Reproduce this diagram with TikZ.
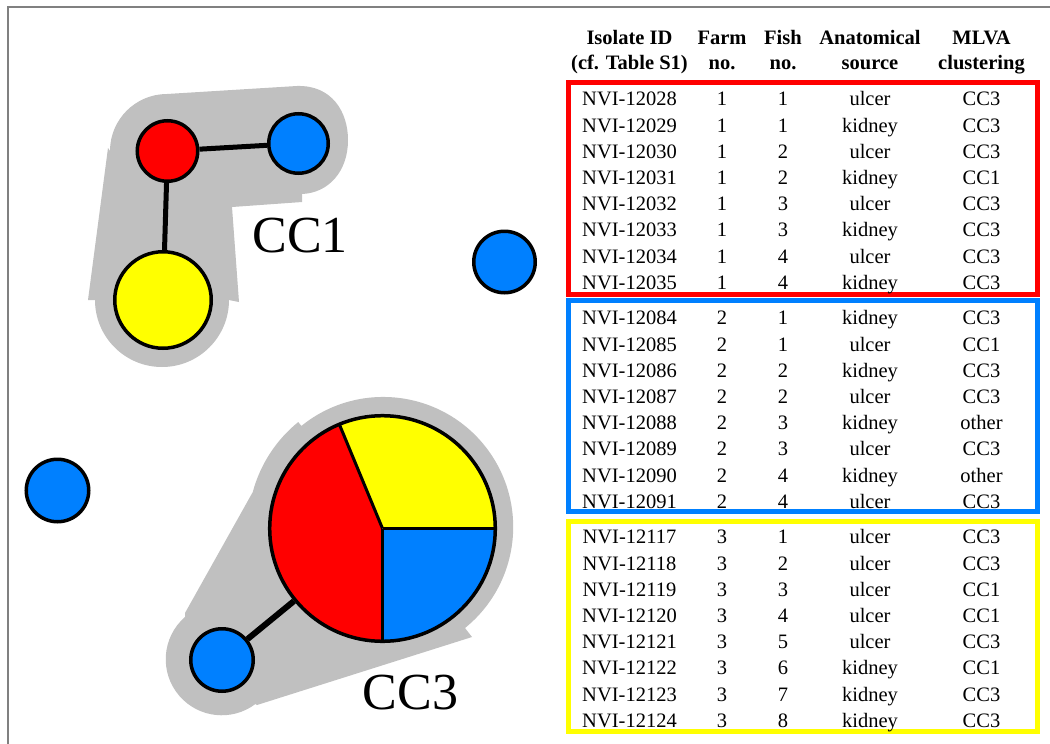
\documentclass[tikz,border=0pt]{standalone}
\usepackage{fontspec}
\setmainfont{Liberation Serif}
\pgfdeclarelayer{bg}
\pgfsetlayers{bg,main}
\definecolor{nred}{RGB}{255,0,0}
\definecolor{nblue}{RGB}{0,128,255}
\definecolor{nyellow}{RGB}{255,255,0}
\definecolor{hullgrey}{RGB}{192,192,192}
\definecolor{framegrey}{RGB}{128,128,128}
\begin{document}
\begin{tikzpicture}[x=1pt,y=-1pt,
  hull/.style={fill=hullgrey},
  vtx/.style={circle, draw=black, line width=3.5pt, inner sep=0pt},
  lnk/.style={draw=black, line width=5pt},
  cell/.style={anchor=base, inner sep=0pt, font=\fontsize{20.5}{24}\selectfont},
  hcell/.style={anchor=base, inner sep=0pt, font=\fontsize{20.5}{24}\selectfont\bfseries},
  farmbox/.style={draw, rectangle, line width=5pt, inner sep=0pt, minimum width=469.5pt},
  cclabel/.style={inner sep=0pt, font=\fontsize{52}{60}\selectfont}]
\useasboundingbox (0,0) rectangle (1050,744);

% ---------- nodes of the graph ----------
\node[vtx, fill=nred, minimum size=60.5pt] (a1) at (167.5,151) {};
\node[vtx, fill=nblue, minimum size=59.5pt] (a2) at (298.5,143.5) {};
\node[vtx, fill=nyellow, minimum size=96.5pt] (a3) at (163,300) {};
\node[vtx, fill=nblue, minimum size=61.5pt] (s1) at (504.5,262) {};
\node[vtx, fill=nblue, minimum size=62.5pt] (s2) at (57.5,490.5) {};
\node[vtx, fill=nblue, minimum size=62.5pt] (b2) at (222,660) {};
% pie
\fill[nyellow] (382.5,528.5) -- ++(-112.5:112.8) arc[start angle=-112.5, end angle=0, radius=112.8] -- cycle;
\fill[nblue] (382.5,528.5) -- ++(0:112.8) arc[start angle=0, end angle=90, radius=112.8] -- cycle;
\fill[nred] (382.5,528.5) -- ++(90:112.8) arc[start angle=90, end angle=247.5, radius=112.8] -- cycle;
\draw[line width=3pt] (382.5,528.5) -- ++(-112.5:112.8);
\draw[line width=3pt] (382.5,528.5) -- ++(0:112.8);
\draw[line width=3pt] (382.5,528.5) -- ++(90:112.8);
\node[circle, draw=black, line width=3.5pt, inner sep=0pt, minimum size=225.6pt] (b1) at (382.5,528.5) {};

% ---------- background, frame, hulls and edges ----------
\begin{pgfonlayer}{bg}
\fill[white] (0,0) rectangle (1050,744);
\draw[framegrey, line width=2pt] (8,744) -- (8,7) -- (1050,7);
\fill[hull] (110,151) arc[start angle=180, end angle=270, radius=57]
  -- (297,86) .. controls (332,85) and (348,112) .. (348,140)
  .. controls (348,172) and (328,193) .. (302,194)
  -- (302,202) -- (232,207) -- (239,302) -- (229,300)
  arc[start angle=0, end angle=180, radius=67]
  -- (88,300) -- (108,148) -- cycle;
\fill[hull] (257,705) -- (472,637) -- (465,628)
  arc[start angle=51, end angle=-129, radius=130]
  -- ++(-129:5) arc[start angle=-129, end angle=-165, radius=135]
  -- (185,613) -- (185,617)
  arc[start angle=-131, end angle=-307, radius=56]
  -- cycle;
\draw[lnk] (a1) -- (a2);
\draw[lnk] (a1) -- (a3);
\draw[lnk, line width=6pt] (b2) -- (b1);
\end{pgfonlayer}

\node[cclabel] (cc1) at (300,236) {CC1};
\node[cclabel] (cc3) at (410.5,692.5) {CC3};

% ---------- table ----------
\node[hcell] (h1a) at (629.5,44.8) {Isolate ID};
\node[hcell] (h1b) at (629.5,69.8) {(cf. Table S1)};
\node[hcell] (h2a) at (722,44.8) {Farm};
\node[hcell] (h2b) at (722,69.8) {no.};
\node[hcell] (h3a) at (783,44.8) {Fish};
\node[hcell] (h3b) at (783,69.8) {no.};
\node[hcell] (h4a) at (870,44.8) {Anatomical};
\node[hcell] (h4b) at (870,69.8) {source};
\node[hcell] (h5a) at (981.5,44.8) {MLVA};
\node[hcell] (h5b) at (981.5,69.8) {clustering};

\node[farmbox, draw=nred, minimum height=211.5pt] (f1) at (802.75,188.25) {};
\node[farmbox, draw=nblue, minimum height=211pt] (f2) at (802.75,406) {};
\node[farmbox, draw=nyellow, minimum height=210pt] (f3) at (802.75,626.5) {};

\foreach \vid/\vfa/\vfish/\vsrc/\vcl [count=\k from 0] in {
  12028/1/1/ulcer/CC3, 12029/1/1/kidney/CC3, 12030/1/2/ulcer/CC3, 12031/1/2/kidney/CC1,
  12032/1/3/ulcer/CC3, 12033/1/3/kidney/CC3, 12034/1/4/ulcer/CC3, 12035/1/4/kidney/CC3}{
  \pgfmathsetmacro{\yy}{105.8+26.2*\k}
  \node[cell] (id\vid) at (629.5,\yy) {NVI-\vid};
  \node[cell] (fa\vid) at (722,\yy) {\vfa};
  \node[cell] (fi\vid) at (783,\yy) {\vfish};
  \node[cell] (src\vid) at (870,\yy) {\vsrc};
  \node[cell] (cl\vid) at (981.5,\yy) {\vcl};
}
\foreach \vid/\vfa/\vfish/\vsrc/\vcl [count=\k from 0] in {
  12084/2/1/kidney/CC3, 12085/2/1/ulcer/CC1, 12086/2/2/kidney/CC3, 12087/2/2/ulcer/CC3,
  12088/2/3/kidney/other, 12089/2/3/ulcer/CC3, 12090/2/4/kidney/other, 12091/2/4/ulcer/CC3}{
  \pgfmathsetmacro{\yy}{324.8+26.2*\k}
  \node[cell] (id\vid) at (629.5,\yy) {NVI-\vid};
  \node[cell] (fa\vid) at (722,\yy) {\vfa};
  \node[cell] (fi\vid) at (783,\yy) {\vfish};
  \node[cell] (src\vid) at (870,\yy) {\vsrc};
  \node[cell] (cl\vid) at (981.5,\yy) {\vcl};
}
\foreach \vid/\vfa/\vfish/\vsrc/\vcl [count=\k from 0] in {
  12117/3/1/ulcer/CC3, 12118/3/2/ulcer/CC3, 12119/3/3/ulcer/CC1, 12120/3/4/ulcer/CC1,
  12121/3/5/ulcer/CC3, 12122/3/6/kidney/CC1, 12123/3/7/kidney/CC3, 12124/3/8/kidney/CC3}{
  \pgfmathsetmacro{\yy}{543.8+26.2*\k}
  \node[cell] (id\vid) at (629.5,\yy) {NVI-\vid};
  \node[cell] (fa\vid) at (722,\yy) {\vfa};
  \node[cell] (fi\vid) at (783,\yy) {\vfish};
  \node[cell] (src\vid) at (870,\yy) {\vsrc};
  \node[cell] (cl\vid) at (981.5,\yy) {\vcl};
}
\end{tikzpicture}
\end{document}
